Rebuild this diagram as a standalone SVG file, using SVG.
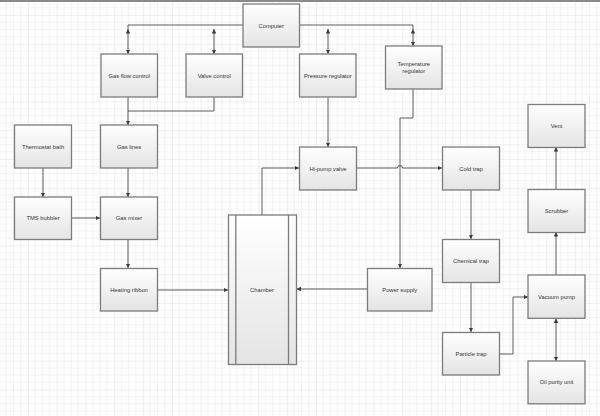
<svg xmlns="http://www.w3.org/2000/svg" width="600" height="416" viewBox="0 0 600 416">
<defs>
<pattern id="grid" x="27.9" y="15" width="28.8" height="28.8" patternUnits="userSpaceOnUse">
<path d="M7.2,0 V28.8 M14.4,0 V28.8 M21.6,0 V28.8 M0,7.2 H28.8 M0,14.4 H28.8 M0,21.6 H28.8" fill="none" stroke="#ececec" stroke-width="0.7"/>
<path d="M0,0 H28.8 M0,0 V28.8" fill="none" stroke="#d9d9d9" stroke-width="0.8"/>
</pattern>
<linearGradient id="fill" x1="0" y1="0" x2="0" y2="1">
<stop offset="0" stop-color="#ffffff"/>
<stop offset="1" stop-color="#e4e4e4"/>
</linearGradient>
<marker id="arr" viewBox="0 0 10 10" refX="10" refY="5" markerWidth="4.5" markerHeight="4.5" markerUnits="userSpaceOnUse" orient="auto-start-reverse">
<path d="M0,0 L10,5 L0,10 z" fill="#3a3a3a"/>
</marker>
</defs>
<style>
.box{fill:url(#fill);stroke:#7c7c7c;stroke-width:1.3}
.lbl{font-family:"Liberation Sans",Arial,sans-serif;font-size:5.8px;fill:#333;text-anchor:middle;dominant-baseline:central}
.c{fill:none;stroke:#4a4a4a;stroke-width:0.9}
.a{marker-end:url(#arr)}
.b{marker-start:url(#arr);marker-end:url(#arr)}
</style>
<rect width="600" height="416" fill="#ffffff"/>
<rect width="600" height="416" fill="url(#grid)"/>
<rect x="0" y="0" width="600" height="2" fill="#8a8a8a"/>

<g id="connectors">
<path class="c" d="M128,29 V25 H413 V29"/>
<path class="c b" d="M128,29 V54"/>
<path class="c b" d="M214,29 V54"/>
<path class="c b" d="M328,29 V54"/>
<path class="c b" d="M413,29 V46"/>
<path class="c" d="M214,97 V111 H128"/>
<path class="c a" d="M128,97 V125"/>
<path class="c a" d="M43,168 V197"/>
<path class="c a" d="M128,168 V197"/>
<path class="c a" d="M72,218 H100"/>
<path class="c a" d="M128,239 V268"/>
<path class="c a" d="M157,290 H228"/>
<path class="c a" d="M328,97 V147"/>
<path class="c a" d="M262,215 V168 H299"/>
<path class="c a" d="M357,168 H397.5 A2.5,2.5 0 0 1 402.5,168 H442"/>
<path class="c a" d="M413,89 V118 H400 V268"/>
<path class="c a" d="M367,289 H296.5"/>
<path class="c a" d="M471,190 V239"/>
<path class="c a" d="M471,283 V332"/>
<path class="c a" d="M499,354 H513 V297 H528"/>
<path class="c b" d="M556,318.5 V361"/>
<path class="c a" d="M556,275 V232"/>
<path class="c a" d="M556,189 V147"/>
</g>

<g id="computer"><rect class="box" x="243" y="4" width="56.5" height="43"/><text class="lbl" x="271.2" y="25.5">Computer</text></g>
<g id="gas-flow-control"><rect class="box" x="101" y="54" width="56.5" height="43"/><text class="lbl" x="129.2" y="75.5">Gas flow control</text></g>
<g id="valve-control"><rect class="box" x="186" y="54" width="56.5" height="43"/><text class="lbl" x="214.2" y="75.5">Valve control</text></g>
<g id="pressure-regulator"><rect class="box" x="299.5" y="54" width="56.5" height="43"/><text class="lbl" x="327.8" y="75.5">Pressure regulator</text></g>
<g id="temperature-regulator"><rect class="box" x="385.5" y="46" width="56.5" height="43"/><text class="lbl" x="413.8" y="63.5">Temperature</text><text class="lbl" x="413.8" y="71">regulator</text></g>
<g id="thermostat-bath"><rect class="box" x="14.5" y="125" width="57" height="43"/><text class="lbl" x="43" y="146.5">Thermostat bath</text></g>
<g id="gas-lines"><rect class="box" x="100.5" y="125" width="57" height="43"/><text class="lbl" x="129" y="146.5">Gas lines</text></g>
<g id="tms-bubbler"><rect class="box" x="14.5" y="197" width="57" height="42.5"/><text class="lbl" x="43" y="218.3">TMS bubbler</text></g>
<g id="gas-mixer"><rect class="box" x="100.5" y="197" width="57" height="42.5"/><text class="lbl" x="129" y="218.3">Gas mixer</text></g>
<g id="heating-ribbon"><rect class="box" x="100.5" y="268.5" width="57" height="42.5"/><text class="lbl" x="129" y="289.8">Heating ribbon</text></g>
<g id="chamber"><rect class="box" x="228.5" y="215" width="68" height="149.5"/><line x1="235.8" y1="215" x2="235.8" y2="364.5" stroke="#7c7c7c" stroke-width="1.3"/><line x1="288.5" y1="215" x2="288.5" y2="364.5" stroke="#7c7c7c" stroke-width="1.3"/><text class="lbl" x="262" y="289.5">Chamber</text></g>
<g id="hi-pump-valve"><rect class="box" x="299.5" y="147" width="57" height="43"/><text class="lbl" x="328" y="168.5">Hi-pump valve</text></g>
<g id="power-supply"><rect class="box" x="367.5" y="268.5" width="64.5" height="42.5"/><text class="lbl" x="399.7" y="289.8">Power supply</text></g>
<g id="cold-trap"><rect class="box" x="442.5" y="147" width="57" height="43"/><text class="lbl" x="471" y="168.5">Cold trap</text></g>
<g id="chemical-trap"><rect class="box" x="442.5" y="239.5" width="57" height="43"/><text class="lbl" x="471" y="261">Chemical trap</text></g>
<g id="particle-trap"><rect class="box" x="442.5" y="332.5" width="57" height="42.5"/><text class="lbl" x="471" y="353.8">Particle trap</text></g>
<g id="vent"><rect class="box" x="528" y="104.5" width="57" height="43"/><text class="lbl" x="556.5" y="126">Vent</text></g>
<g id="scrubber"><rect class="box" x="528" y="189.5" width="57" height="43"/><text class="lbl" x="556.5" y="211">Scrubber</text></g>
<g id="vacuum-pump"><rect class="box" x="528" y="275" width="57" height="43.3"/><text class="lbl" x="556.5" y="296.7">Vacuum pump</text></g>
<g id="oil-purity-unit"><rect class="box" x="528" y="361" width="57" height="42.8"/><text class="lbl" x="556.5" y="382.4">Oil purity unit</text></g>
</svg>
